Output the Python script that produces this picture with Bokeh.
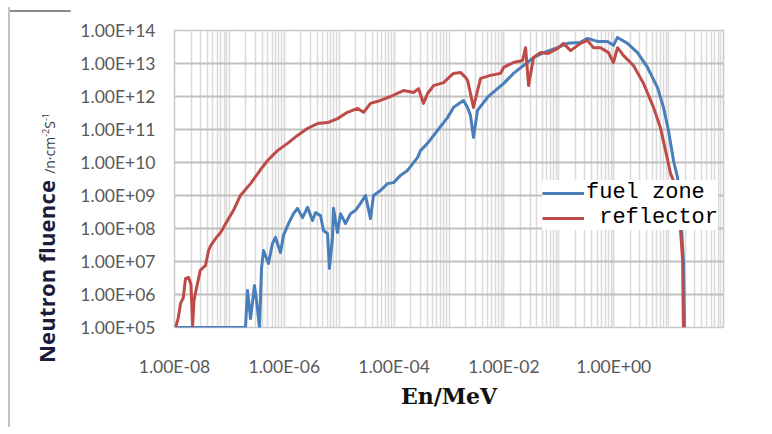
import numpy as np
from bokeh.plotting import figure
from bokeh.layouts import row, column
from bokeh.models import (Range1d, FixedTicker, CustomJSTickFormatter, Div,
                          Legend, LegendItem)
from bokeh.embed import file_html
from bokeh.resources import INLINE

# ---- data (log10 of energy in MeV, log10 of fluence) ----
red_log_e = [-7.98, -7.93, -7.89, -7.84, -7.80, -7.745, -7.70, -7.67, -7.645, -7.62,
             -7.53, -7.435, -7.38, -7.34, -7.25, -7.16, -7.035, -6.925, -6.80, -6.615,
             -6.435, -6.305, -6.125, -5.94, -5.76, -5.58, -5.395, -5.21, -5.03, -4.85,
             -4.665, -4.555, -4.43, -4.25, -4.065, -3.83, -3.645, -3.555, -3.465, -3.39,
             -3.28, -3.10, -2.92, -2.79, -2.70, -2.66, -2.61, -2.555, -2.425, -2.245,
             -2.06, -2.005, -1.825, -1.66, -1.605, -1.55, -1.46, -1.335, -1.205, -1.025,
             -0.915, -0.785, -0.605, -0.48, -0.37, -0.24, -0.095, -0.005, 0.07, 0.18,
             0.36, 0.545, 0.725, 0.85, 0.945, 1.035, 1.125, 1.20, 1.255, 1.27]
red_log_phi = [5.0, 5.3, 5.73, 5.9, 6.48, 6.52, 6.3, 5.06, 5.8, 6.03,
               6.73, 6.88, 7.33, 7.48, 7.70, 7.88, 8.24, 8.55, 9.0, 9.36,
               9.78, 10.06, 10.36, 10.58, 10.82, 11.03, 11.18, 11.21, 11.33, 11.52,
               11.64, 11.52, 11.79, 11.88, 12.0, 12.18, 12.12, 12.24, 11.79, 12.09,
               12.33, 12.42, 12.70, 12.73, 12.58, 12.48, 12.1, 11.67, 12.55, 12.64,
               12.70, 12.88, 13.03, 13.09, 13.48, 12.33, 13.18, 13.33, 13.30, 13.45,
               13.61, 13.39, 13.61, 13.70, 13.48, 13.48, 13.33, 13.03, 13.48, 13.24,
               12.94, 12.39, 11.67, 11.06, 10.36, 9.67, 9.30, 8.39, 7.03, 5.0]

blue_log_e = [-7.95, -6.707, -6.67, -6.615, -6.543, -6.506, -6.452, -6.415, -6.379, -6.288,
              -6.215, -6.16, -6.069, -6.015, -5.923, -5.832, -5.76, -5.668, -5.577, -5.486,
              -5.432, -5.34, -5.286, -5.213, -5.177, -5.122, -5.104, -5.031, -4.976, -4.885,
              -4.794, -4.703, -4.612, -4.521, -4.43, -4.375, -4.248, -4.12, -4.01, -3.883,
              -3.756, -3.574, -3.519, -3.392, -3.21, -3.027, -2.918, -2.79, -2.736, -2.663,
              -2.608, -2.554, -2.481, -2.30, -2.117, -2.007, -1.825, -1.643, -1.461, -1.279,
              -1.024, -0.842, -0.605, -0.477, -0.295, -0.113, -0.004, 0.069, 0.251, 0.434,
              0.616, 0.798, 0.907, 0.998, 1.089, 1.162, 1.217, 1.271, 1.29]
blue_log_phi = [5.0, 5.0, 6.12, 5.27, 6.27, 5.82, 5.0, 6.79, 7.33, 6.94,
                7.55, 7.73, 7.27, 7.79, 8.15, 8.45, 8.61, 8.33, 8.64, 8.24,
                8.48, 8.39, 7.94, 7.85, 6.79, 7.73, 8.61, 7.88, 8.45, 8.15,
                8.45, 8.55, 8.76, 9.0, 8.30, 9.0, 9.15, 9.36, 9.39, 9.61,
                9.76, 10.15, 10.36, 10.58, 10.97, 11.36, 11.67, 11.82, 11.88, 11.67,
                11.42, 10.76, 11.58, 11.97, 12.24, 12.39, 12.70, 12.94, 13.18, 13.33,
                13.48, 13.61, 13.64, 13.76, 13.67, 13.67, 13.55, 13.79, 13.61, 13.33,
                12.88, 12.27, 11.67, 10.97, 10.06, 9.55, 8.55, 7.03, 5.0]

x_major_ticks = [1e-8, 1e-6, 1e-4, 1e-2, 1e0]
x_minor_ticks = [k * 10.0 ** n for n in range(-8, 2) for k in range(1, 10)] + [1e2]
y_major_ticks = [10.0 ** n for n in range(5, 15)]
series_labels = ["fuel zone", " reflector"]
x_title = "En/MeV"
y_title_main = "Neutron fluence"
y_title_unit = ["/n\u00b7cm", "-2", "S", "-1"]

blue_e = 10.0 ** np.array(blue_log_e)
blue_phi = 10.0 ** np.array(blue_log_phi)
red_e = 10.0 ** np.array(red_log_e)
red_phi = 10.0 ** np.array(red_log_phi)

TOP_H = 7
LEFT_W = 70
TOP_B, FRAME_H, BOT_B = 23, 297, 100
MAIN_H = TOP_B + FRAME_H + BOT_B
MAIN_W = 104 + 549 + 41
TOTAL_W = LEFT_W + MAIN_W

# ---- main chart ----
p = figure(x_axis_type="log", y_axis_type="log",
           x_range=Range1d(1e-8, 1e2), y_range=Range1d(1e5, 1e14),
           frame_width=549, frame_height=FRAME_H,
           min_border_left=104, min_border_right=41,
           min_border_top=TOP_B, min_border_bottom=BOT_B,
           output_backend="svg", toolbar_location=None)
p.background_fill_color = "white"
p.border_fill_color = "white"
p.outline_line_color = "#c8c8c8"
p.outline_line_width = 1.5

fmt = CustomJSTickFormatter(code="""
const e = Math.round(Math.log10(tick));
const s = e < 0 ? "-" : "+";
const a = Math.abs(e);
return "1.00E" + s + (a < 10 ? "0" + a : "" + a);
""")

p.xaxis.ticker = FixedTicker(ticks=x_major_ticks, minor_ticks=x_minor_ticks)
p.yaxis.ticker = FixedTicker(ticks=y_major_ticks, minor_ticks=[])
for ax in (p.xaxis[0], p.yaxis[0]):
    ax.formatter = fmt
    ax.axis_line_color = None
    ax.major_tick_line_color = None
    ax.minor_tick_line_color = None
    ax.major_tick_out = 0
    ax.major_tick_in = 0
    ax.minor_tick_out = 0
    ax.minor_tick_in = 0
    ax.major_label_text_font = "Lato"
    ax.major_label_text_font_size = "17.5px"
    ax.major_label_text_color = "#595959"

p.xaxis.major_label_standoff = 28
p.yaxis.major_label_standoff = 19
p.xaxis.axis_label = x_title
p.xaxis.axis_label_text_font = "DejaVu Serif"
p.xaxis.axis_label_text_font_style = "bold"
p.xaxis.axis_label_text_font_size = "22px"
p.xaxis.axis_label_text_color = "#111111"
p.xaxis.axis_label_standoff = 3

p.xgrid.grid_line_color = "#dadada"
p.xgrid.grid_line_width = 1.5
p.xgrid.minor_grid_line_color = "#dadada"
p.xgrid.minor_grid_line_width = 1.5
p.ygrid.grid_line_color = "#bfbfbf"
p.ygrid.grid_line_width = 2

rb = p.line(blue_e, blue_phi, line_color="#4A7EBB", line_width=3, line_join="round")
rr = p.line(red_e, red_phi, line_color="#BE4B48", line_width=3, line_join="round")

legend = Legend(items=[LegendItem(label=series_labels[0], renderers=[rb]),
                       LegendItem(label=series_labels[1], renderers=[rr])],
                location=(368, 97), orientation="vertical",
                label_text_font="Liberation Mono", label_text_font_size="22px",
                label_text_color="#000000", glyph_width=42, glyph_height=24,
                label_height=24, label_standoff=2, spacing=0, padding=2, margin=0,
                border_line_color=None, background_fill_color="white",
                background_fill_alpha=1.0)
p.add_layout(legend)

# ---- top strip: outer frame line ----
top_html = (
    f'<div style="position:relative;width:{TOTAL_W}px;height:{TOP_H}px;">'
    f'<div style="position:absolute;left:8px;top:5px;width:{TOTAL_W - 8}px;height:2px;'
    'background:#8c8c8c;"></div></div>'
)
top = Div(text=top_html, width=TOTAL_W, height=TOP_H,
          styles={"margin": "0", "padding": "0", "width": f"{TOTAL_W}px",
                  "overflow": "visible"})

# ---- left block: outer frame line + rotated y-axis title (real text) ----
sup = 'style="font-size:9px;line-height:0;vertical-align:6px;"'
unit_html = (f'{y_title_unit[0]}<span {sup}>{y_title_unit[1]}</span>'
             f'{y_title_unit[2]}<span {sup}>{y_title_unit[3]}</span>')
title_html = (
    f'<div style="position:relative;width:{LEFT_W}px;height:{MAIN_H}px;overflow:hidden;">'
    '<div style="position:absolute;left:8px;top:0;width:2px;height:100%;'
    'background:#c4c4c4;"></div>'
    '<div style="position:absolute;left:35px;top:356px;transform:rotate(-90deg);'
    'transform-origin:left top;white-space:nowrap;line-height:22px;'
    'font-family:\'Open Sans\',sans-serif;">'
    '<span style="font-weight:bold;font-size:22px;letter-spacing:0.2px;'
    f'color:#1c1c3a;">{y_title_main}</span>'
    '<span style="font-size:14px;color:#404040;margin-left:6px;">'
    f'{unit_html}</span></div></div>'
)
left = Div(text=title_html, width=LEFT_W, height=MAIN_H,
           styles={"margin": "0", "padding": "0"})

layout = column(top, row(left, p, spacing=0), spacing=0)
open("out.html", "w").write(file_html(layout, INLINE))
